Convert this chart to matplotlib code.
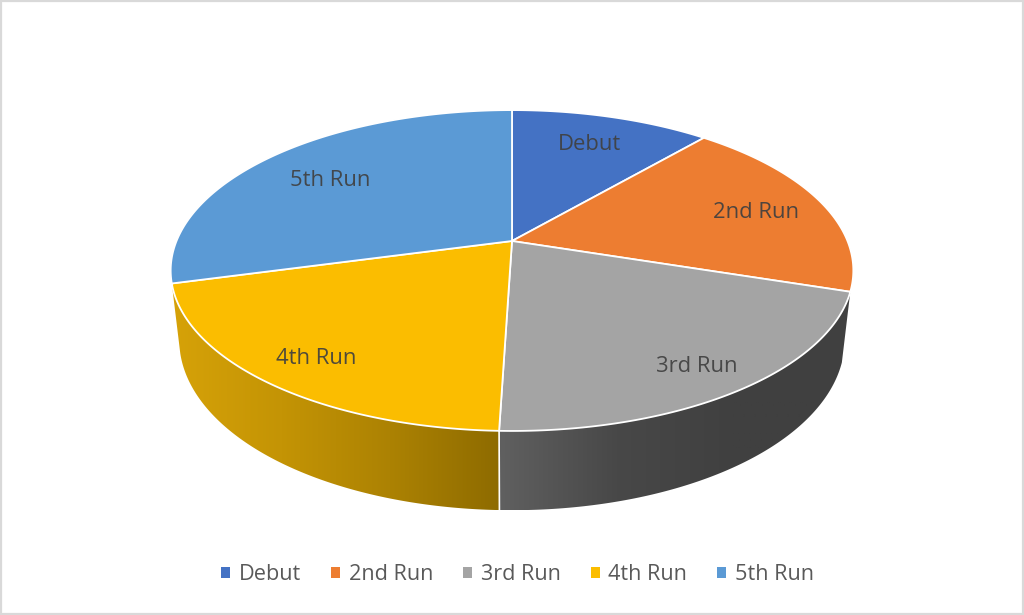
import numpy as np
import matplotlib
matplotlib.use("Agg")
import matplotlib.pyplot as plt
from matplotlib.patches import Patch, Polygon, Rectangle
from matplotlib.colors import LinearSegmentedColormap

categories = ["Debut", "2nd Run", "3rd Run", "4th Run", "5th Run"]
shares = [11.3, 18.7, 20.5, 20.3, 29.2]
colors = ["#4472C4", "#ED7D31", "#A4A4A4", "#FBBD00", "#5B9AD5"]
label_xy = [(590, 145), (756, 213), (697, 366), (316, 359), (330, 180)]
wall_ramps = {2: ["#606060", "#484848", "#404040", "#404040"],
              3: ["#D6A208", "#C49405", "#AC8203", "#8E6B00"]}

plt.rcParams["font.family"] = ["Open Sans", "DejaVu Sans"]
W, H = 1024, 615
fig = plt.figure(figsize=(W / 100, H / 100), dpi=100)
ax = fig.add_axes([0, 0, 1, 1])
ax.set_xlim(0, W)
ax.set_ylim(H, 0)
ax.axis("off")

CX, CY, A, B, K = 512, 241, 335.5, 155, 0.184


def project(theta, bottom=False):
    u, v = np.sin(theta), np.cos(theta)
    w = 1 + K * v
    scale = 0.975 if bottom else 1.0
    drop = 66.6 - 17.4 * v if bottom else 0.0
    return CX + scale * A * u / w, CY - scale * B * v / w + drop


edges = np.deg2rad(np.cumsum([0] + shares) / sum(shares) * 360)

# side walls
for i, ramp in wall_ramps.items():
    t = np.linspace(edges[i], edges[i + 1], 200)
    xt, yt = project(t)
    xb, yb = project(t, True)
    pts = np.r_[np.c_[xt, yt], np.c_[xb, yb][::-1]]
    cmap = LinearSegmentedColormap.from_list(f"w{i}", ramp)
    x0, x1 = pts[:, 0].min(), pts[:, 0].max()
    g = np.linspace(0, 1, 256)[None, :]
    im = ax.imshow(g, cmap=cmap, extent=[x0, x1, pts[:, 1].max(), pts[:, 1].min()],
                   aspect="auto", zorder=1)
    clip = Polygon(pts, transform=ax.transData, fc="none", ec="none")
    ax.add_patch(clip)
    im.set_clip_path(clip)

ax.set_xlim(0, W)
ax.set_ylim(H, 0)

# seam between the two visible walls
sx0, sy0 = project(edges[3])
sx1, sy1 = project(edges[3], True)
ax.plot([sx0, sx1], [sy0, sy1], color="white", lw=1.2, zorder=2)

# top face
for i, c in enumerate(colors):
    t = np.linspace(edges[i], edges[i + 1], 200)
    x, y = project(t)
    ax.add_patch(Polygon(np.r_[[[CX, CY]], np.c_[x, y]], closed=True, fc=c, ec="white",
                         lw=1.3, joinstyle="round", zorder=3))

for name, (x, y) in zip(categories, label_xy):
    ax.text(x, y, name, ha="center", va="center", fontsize=15.8, color="#404040",
            alpha=0.92, zorder=4)

handles = [Patch(fc=c, ec="none", label=n) for c, n in zip(colors, categories)]
ax.legend(handles=handles, loc="center", bbox_to_anchor=(517.5, 574.5),
          bbox_transform=ax.transData, ncol=5, frameon=False, fontsize=15.6,
          labelcolor="#595959", handlelength=0.42, handleheight=0.42,
          handletextpad=0.40, columnspacing=1.38, borderpad=0, borderaxespad=0)

ax.add_patch(Rectangle((1, 1), W - 2, H - 2, fc="none", ec="#D9D9D9", lw=1.6, zorder=5))

fig.savefig("out.png", dpi=100)
